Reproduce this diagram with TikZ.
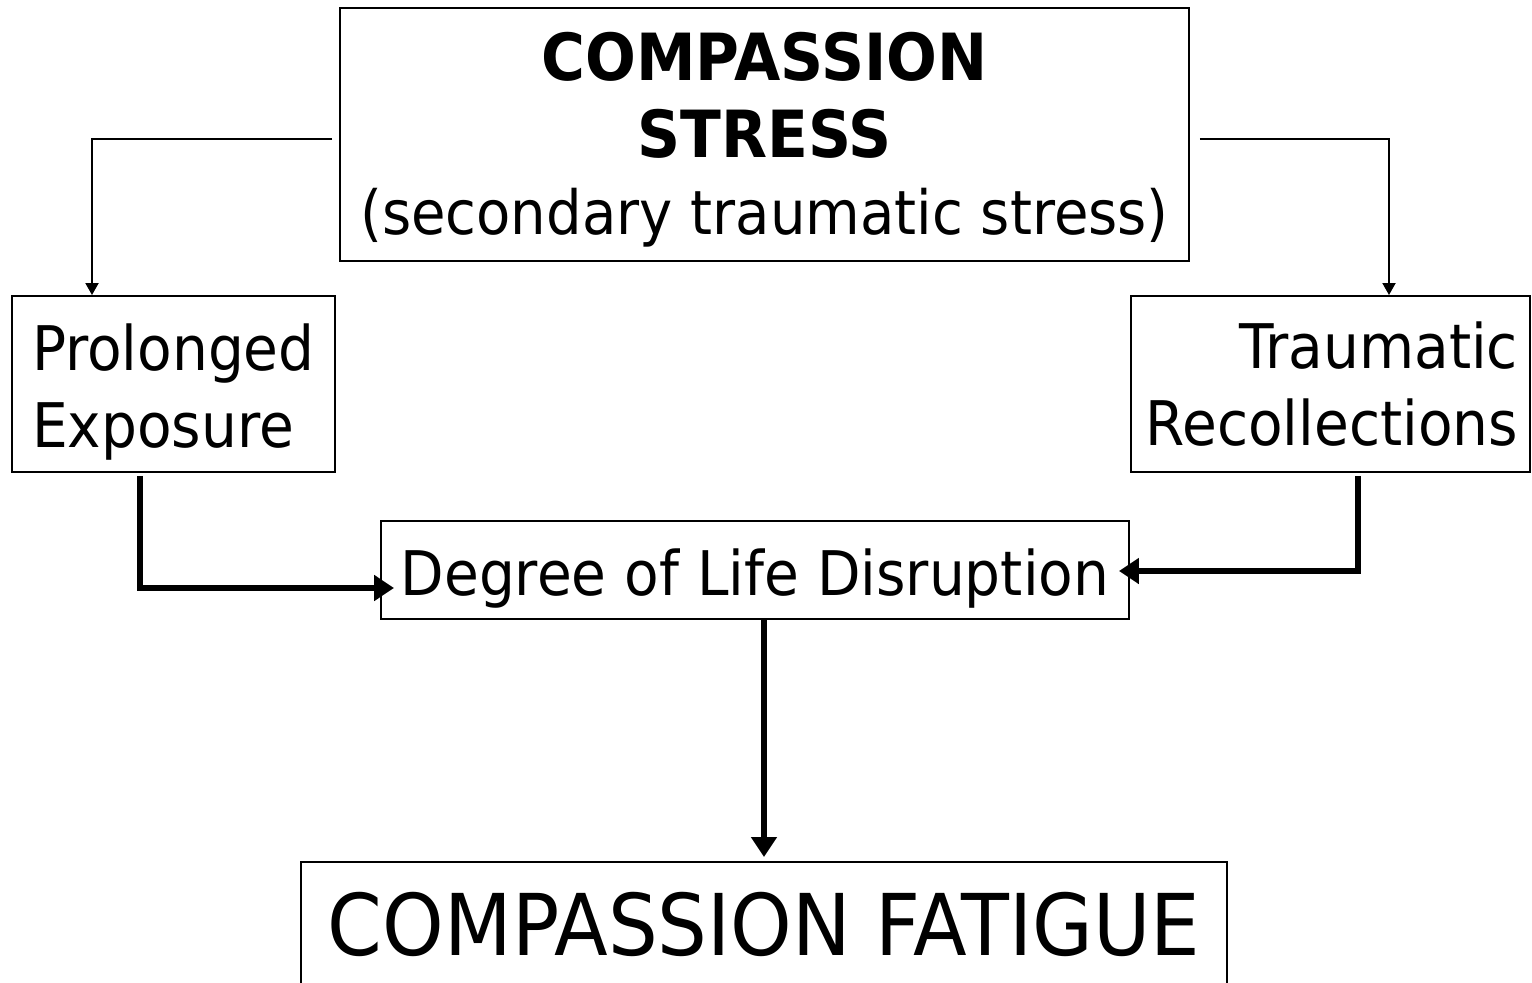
\documentclass[tikz,border=0pt]{standalone}
\usepackage{fontspec}
\setmainfont{DejaVu Sans}[FakeStretch=0.92]
\usepackage{tikz}
\usetikzlibrary{arrows.meta}

\tikzset{
  box/.style={draw, rectangle, line width=1.1pt, inner sep=0pt},
  thinarrow/.style={line width=1.1pt, -{Triangle[length=0.24cm, width=0.26cm]}},
  thickarrow/.style={line width=3.4pt, -{Triangle[length=0.4cm, width=0.5cm]}}
}

\begin{document}
\begin{tikzpicture}[font=\fontsize{35}{43.6}\selectfont]
            \useasboundingbox (0,0) rectangle (30.64,-19.66);

            \node[box, minimum width=16.98cm, minimum height=5.06cm, align=center] (stress) at (15.29,-2.69)
                {\rule{0pt}{33.5pt}{\bfseries\fontsize{37}{43.6}\selectfont COMPASSION}\\{\bfseries\fontsize{37}{43.6}\selectfont STRESS}\\{\fontsize{34.7}{43.6}\selectfont(secondary traumatic stress)}};

            \node[box, minimum width=6.46cm, minimum height=3.52cm, text width=5.66cm, align=left] (prolonged) at (3.47,-7.68) {\rule{0pt}{35.7pt}Prolonged\\Exposure};

            \node[box, minimum width=7.98cm, minimum height=3.52cm, text width=7.5cm, align=right] (recollect) at (26.61,-7.68) {Traumatic\\Recollections};

            \node[box, minimum width=14.96cm, minimum height=1.96cm] (disruption) at (15.10,-11.40) {\rule{0pt}{36.8pt}Degree of Life Disruption};

            \node[box, anchor=north, minimum width=18.52cm, minimum height=2.52cm, font=\fontsize{48.5}{58}\selectfont] (fatigue) at (15.28,-17.22) {COMPASSION FATIGUE};

            \draw[thinarrow, shorten <=0.14cm] ([yshift=-0.09cm]stress.west) -| ([xshift=-1.63cm]prolonged.north);
            \draw[thinarrow, shorten <=0.2cm] ([yshift=-0.09cm]stress.east) -| ([xshift=1.17cm]recollect.north);

            \draw[thickarrow, shorten <=0.06cm, shorten >=-0.28cm] ([xshift=-0.67cm]prolonged.south) |- ([yshift=-0.36cm]disruption.west);
            \draw[thickarrow, shorten <=0.06cm, shorten >=-0.22cm] ([xshift=0.55cm]recollect.south) |- ([yshift=-0.02cm]disruption.east);
            \draw[thickarrow, shorten >=0.08cm] (disruption.south -| fatigue.north) -- (fatigue.north);
        \end{tikzpicture}
\end{document}
